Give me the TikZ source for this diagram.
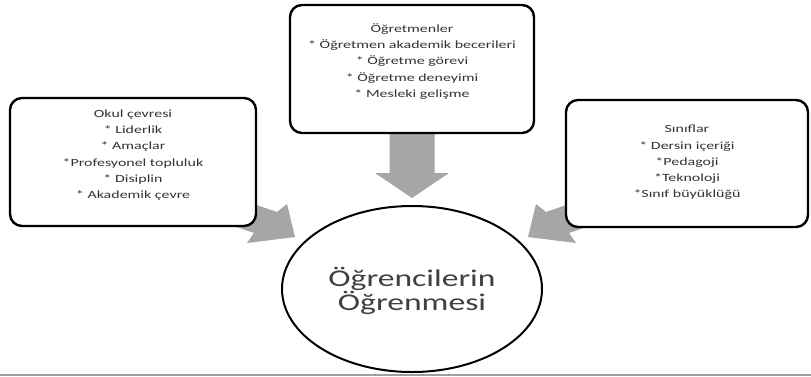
\documentclass[tikz,border=0pt]{standalone}
\usepackage{fontspec}
\setmainfont{Carlito}
\usepackage{graphicx}
\usetikzlibrary{shapes.geometric}
\definecolor{arrowgray}{HTML}{A6A6A6}
\definecolor{linegray}{HTML}{A0A0A0}
\definecolor{bigtext}{HTML}{404040}
\newcommand{\hs}[1]{\scalebox{1.45}[1]{#1}}
\newcommand{\hb}[1]{\scalebox{1.4}[1]{#1}}
\tikzset{
  panel/.style={draw=black, line width=2.4pt, rounded corners=12pt, fill=white, inner sep=0pt},
  paneltext/.style={align=center, text=black!80, font=\fontsize{11}{16.3}\selectfont, inner sep=0pt},
  blockarrow/.style={fill=arrowgray, draw=none},
  goal/.style={draw=black, ellipse, line width=2pt, fill=white, inner sep=0pt, minimum width=260pt, minimum height=166pt},
  goaltext/.style={align=center, text=bigtext, font=\fontsize{24}{24}\selectfont, inner sep=0pt},
}
\begin{document}
\begin{tikzpicture}[x=1pt,y=-1pt]
\useasboundingbox (0,0) rectangle (811,376);
\fill[white] (0,0) rectangle (811,376);
% block arrows (drawn beneath the panels)
\fill[blockarrow] (222,193) -- (277,212) -- (287,204) -- (295,237) -- (247,243) -- (254,233) -- (222,222) -- cycle;
\begin{scope}[shift={(823,0)}, xscale=-1]
\fill[blockarrow] (222,193) -- (277,212) -- (287,204) -- (295,237) -- (247,243) -- (254,233) -- (222,222) -- cycle;
\end{scope}
\fill[blockarrow] (389.5,120) -- (434.5,120) -- (434.5,173) -- (449,173) -- (412,198) -- (375,173) -- (389.5,173) -- cycle;
% panels
\node[panel, minimum width=246pt, minimum height=128pt] (okul) at (133,162) {};
\node[panel, minimum width=244pt, minimum height=128pt] (ogretmen) at (412,69) {};
\node[panel, minimum width=242pt, minimum height=127pt] (sinif) at (687,163.5) {};
% panel texts
\node[paneltext] (okult) at (133,155) {\hs{Okul çevresi}\\\hs{* Liderlik}\\\hs{* Amaçlar}\\\hs{*Profesyonel topluluk}\\\hs{* Disiplin}\\\hs{* Akademik çevre}};
\node[paneltext] (ogretment) at (412,61.5) {\hs{Öğretmenler}\\\hs{* Öğretmen akademik becerileri}\\\hs{* Öğretme görevi}\\\hs{* Öğretme deneyimi}\\\hs{* Mesleki gelişme}};
\node[paneltext] (siniftt) at (687,162.5) {\hs{Sınıflar}\\\hs{* Dersin içeriği}\\\hs{*Pedagoji}\\\hs{*Teknoloji}\\\hs{*Sınıf büyüklüğü}};
% goal ellipse
\node[goal] (ogrenme) at (412,289) {};
\node[goaltext] (ogrenmet) at (412,291) {\hb{Öğrencilerin}\\\hb{Öğrenmesi}};
% bottom rule
\draw[linegray, line width=1.8pt] (0,374.6) -- (811,374.6);
\end{tikzpicture}
\end{document}
